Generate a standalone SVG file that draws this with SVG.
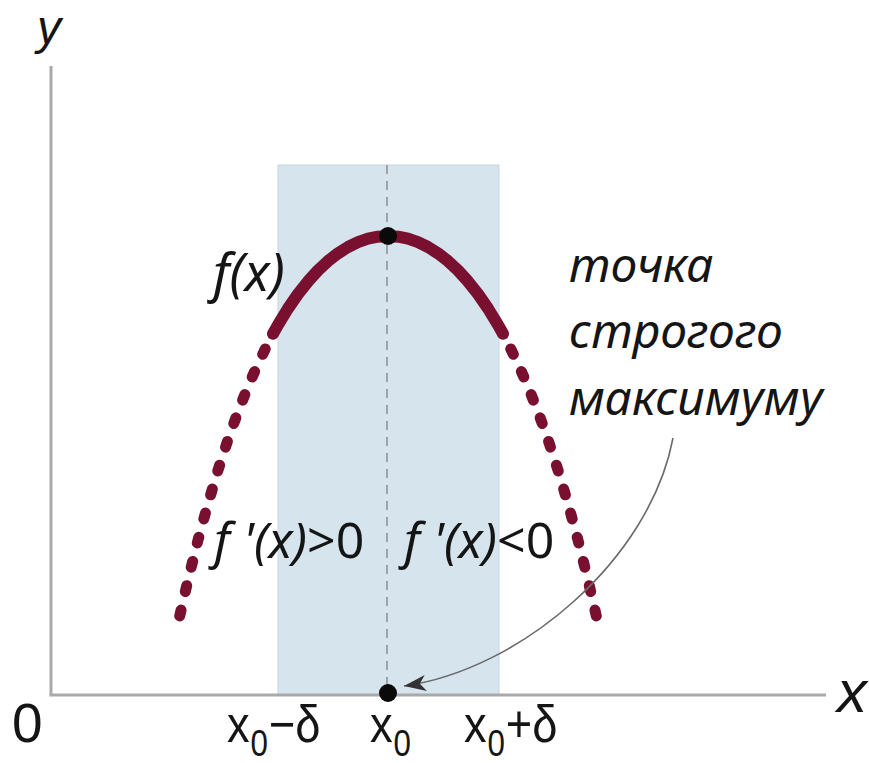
<svg xmlns="http://www.w3.org/2000/svg" width="869" height="763" viewBox="0 0 869 763">
  <style>
    .axis { stroke: #a9a9a9; stroke-width: 3; fill: none; }
    .curve { stroke: #7a1030; fill: none; stroke-linejoin: round; stroke-linecap: round; }
    .solid { stroke-width: 12; }
    .dotted { stroke-width: 11; stroke-dasharray: 6 19; stroke-dashoffset: 8; }
    .it { font-family: "Noto Sans", "Open Sans", sans-serif; font-style: italic; fill: #151515; }
    .lbl { font-family: "Liberation Sans", Arial, sans-serif; fill: #151515; }
    .pt { fill: #0a0a0a; }
  </style>
  <defs>
    <marker id="arr" markerUnits="userSpaceOnUse" markerWidth="24" markerHeight="18" refX="22" refY="9" orient="auto">
      <path d="M0,1 L22,9 L0,17 L6,9 z" fill="#333"/>
    </marker>
  </defs>

  <g id="band">
    <rect x="278" y="165" width="221" height="530" fill="#d6e4ee" stroke="#c6d6e2" stroke-width="1"/>
    <line x1="387" y1="165" x2="387" y2="695" stroke="#8a8f94" stroke-width="1.5" stroke-dasharray="9 7"/>
  </g>

  <g id="axes">
    <line class="axis" x1="51" y1="66" x2="51" y2="695"/>
    <line class="axis" x1="49.5" y1="695" x2="826" y2="695"/>
    <text class="lbl" x="37" y="44" font-size="48" font-style="italic">y</text>
    <text class="lbl" x="837" y="712" font-size="60" font-style="italic">x</text>
    <text class="lbl" x="12" y="742" font-size="55">0</text>
  </g>

  <g id="curve">
    <path class="curve solid" d="M273,333.8 L278,324.9 L288,308.5 L298,294 L308,281.4 L318,270.4 L328,261.1 L338,253.3 L348,247 L358,242.2 L368,238.7 L378,236.7 L388,236 L398,236.7 L408,238.7 L418,242.2 L428,247 L438,253.3 L448,261.1 L458,270.4 L468,281.4 L478,294 L488,308.5 L498,324.9 L503,333.8"/>
    <path class="curve dotted" d="M273,333.8 L268,343.3 L258,363.8 L248,386.6 L238,411.8 L228,439.6 L218,470.1 L208,503.6 L198,540.1 L188,580 L179,619"/>
    <path class="curve dotted" d="M503,333.8 L508,343.3 L518,363.8 L528,386.6 L538,411.8 L548,439.6 L558,470.1 L568,503.6 L578,540.1 L588,580 L597,619"/>
  </g>

  <g id="max-point">
    <circle class="pt" cx="388" cy="236" r="9"/>
  </g>
  <g id="x0-point">
    <circle class="pt" cx="388" cy="693" r="9"/>
  </g>

  <g id="connectors">
    <path d="M673,438 C650,560 520,670 404,686" fill="none" stroke="#6a6a6a" stroke-width="1.6" marker-end="url(#arr)"/>
  </g>

  <g id="labels">
    <text class="it" x="213" y="291" font-size="52">f(x)</text>
    <text class="it" x="214" y="558" font-size="50">f '(x)<tspan font-style="normal">&gt;0</tspan></text>
    <text class="it" x="404" y="558" font-size="50">f '(x)<tspan font-style="normal">&lt;0</tspan></text>
  </g>

  <g id="annotation">
    <text class="it" x="569" y="282" font-size="48">точка</text>
    <text class="it" x="569" y="348" font-size="48">строгого</text>
    <text class="it" x="569" y="415" font-size="48">максимуму</text>
  </g>

  <g id="ticks">
    <g transform="translate(227,0) scale(0.87,1)">
      <text class="lbl" font-size="52" x="0" y="742">x</text>
      <text class="lbl" font-size="36" x="27" y="756">0</text>
      <text class="lbl" font-size="52" x="48" y="742">−δ</text>
    </g>
    <g transform="translate(370,0) scale(0.87,1)">
      <text class="lbl" font-size="52" x="0" y="742">x</text>
      <text class="lbl" font-size="36" x="27" y="756">0</text>
    </g>
    <g transform="translate(464,0) scale(0.87,1)">
      <text class="lbl" font-size="52" x="0" y="742">x</text>
      <text class="lbl" font-size="36" x="27" y="756">0</text>
      <text class="lbl" font-size="52" x="48" y="742">+δ</text>
    </g>
  </g>
</svg>
